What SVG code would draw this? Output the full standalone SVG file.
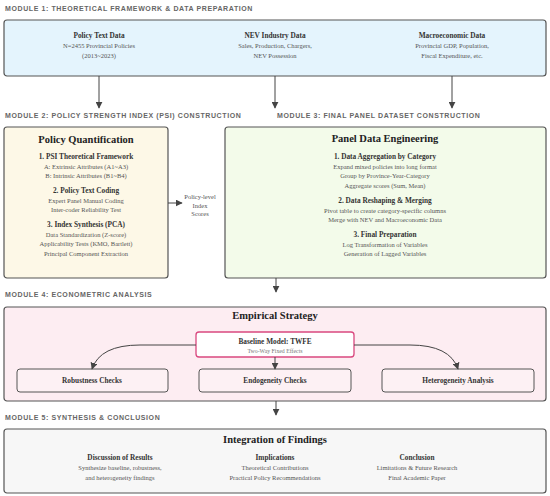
<svg xmlns="http://www.w3.org/2000/svg" width="550" height="496" viewBox="0 0 550 496">
<defs>
<marker id="ah" viewBox="0 0 10 10" refX="9" refY="5" markerWidth="7" markerHeight="7" orient="auto" markerUnits="userSpaceOnUse">
<path d="M0,0 L10,5 L0,10 z" fill="#444"/>
</marker>
<style>
.mt{font-family:"Liberation Sans",Arial,sans-serif;font-size:7px;font-weight:bold;fill:#666;letter-spacing:0.6px}
.mod{stroke:#555;stroke-width:1.2}
.t{font-family:"Liberation Serif","Times New Roman",serif;text-anchor:middle}
.big{font-size:10.5px;font-weight:bold;fill:#222}
.h{font-size:7.3px;font-weight:bold;fill:#333}
.s{font-size:6.5px;fill:#555}
.c{fill:none;stroke:#444;stroke-width:1}
.box{fill:#fdf1f4;stroke:#555;stroke-width:1}
</style>
</defs>
<rect width="550" height="496" fill="#fff"/>

<text class="mt" x="5" y="11">MODULE 1: THEORETICAL FRAMEWORK &amp; DATA PREPARATION</text>
<text class="mt" x="5" y="118">MODULE 2: POLICY STRENGTH INDEX (PSI) CONSTRUCTION</text>
<text class="mt" x="277" y="118">MODULE 3: FINAL PANEL DATASET CONSTRUCTION</text>
<text class="mt" x="5" y="297">MODULE 4: ECONOMETRIC ANALYSIS</text>
<text class="mt" x="5" y="420">MODULE 5: SYNTHESIS &amp; CONCLUSION</text>

<g id="module1">
<rect class="mod" x="4" y="20" width="542" height="56" rx="3" fill="#e4f4fd"/>
<text class="t h" x="99" y="38">Policy Text Data</text>
<text class="t s" x="99" y="48">N=2455 Provincial Policies</text>
<text class="t s" x="99" y="58">(2013~2023)</text>
<text class="t h" x="275" y="38">NEV Industry Data</text>
<text class="t s" x="275" y="48">Sales, Production, Chargers,</text>
<text class="t s" x="275" y="58">NEV Possession</text>
<text class="t h" x="452" y="38">Macroeconomic Data</text>
<text class="t s" x="452" y="48">Provincial GDP, Population,</text>
<text class="t s" x="452" y="58">Fiscal Expenditure, etc.</text>
</g>

<g id="module2">
<rect class="mod" x="4" y="127" width="164" height="151" rx="3" fill="#fdf8e7"/>
<text class="t big" x="86" y="143">Policy Quantification</text>
<text class="t h" x="86" y="159">1. PSI Theoretical Framework</text>
<text class="t s" x="86" y="168.5">A: Extrinsic Attributes (A1~A3)</text>
<text class="t s" x="86" y="178">B: Intrinsic Attributes (B1~B4)</text>
<text class="t h" x="86" y="193">2. Policy Text Coding</text>
<text class="t s" x="86" y="202.5">Expert Panel Manual Coding</text>
<text class="t s" x="86" y="212">Inter-coder Reliability Test</text>
<text class="t h" x="86" y="227">3. Index Synthesis (PCA)</text>
<text class="t s" x="86" y="236.5">Data Standardization (Z-score)</text>
<text class="t s" x="86" y="246">Applicability Tests (KMO, Bartlett)</text>
<text class="t s" x="86" y="255.5">Principal Component Extraction</text>
</g>

<g id="scores-label">
<text class="t s" x="200" y="199">Policy-level</text>
<text class="t s" x="200" y="207.5">Index</text>
<text class="t s" x="200" y="216">Scores</text>
</g>

<g id="module3">
<rect class="mod" x="225" y="127" width="321" height="151" rx="3" fill="#f3fbea"/>
<text class="t big" x="385" y="142">Panel Data Engineering</text>
<text class="t h" x="385" y="159">1. Data Aggregation by Category</text>
<text class="t s" x="385" y="168.5">Expand mixed policies into long format</text>
<text class="t s" x="385" y="178">Group by Province-Year-Category</text>
<text class="t s" x="385" y="187.5">Aggregate scores (Sum, Mean)</text>
<text class="t h" x="385" y="203">2. Data Reshaping &amp; Merging</text>
<text class="t s" x="385" y="212.5">Pivot table to create category-specific columns</text>
<text class="t s" x="385" y="222">Merge with NEV and Macroeconomic Data</text>
<text class="t h" x="385" y="237">3. Final Preparation</text>
<text class="t s" x="385" y="246.5">Log Transformation of Variables</text>
<text class="t s" x="385" y="256">Generation of Lagged Variables</text>
</g>

<g id="module4">
<rect class="mod" x="4" y="307" width="542" height="94" rx="3" fill="#fdedf2"/>
<text class="t big" x="275" y="319">Empirical Strategy</text>
<g id="baseline">
<rect x="196" y="332" width="158" height="25" rx="3" fill="#fff" stroke="#d9487f" stroke-width="1.3"/>
<text class="t h" x="275" y="344">Baseline Model: TWFE</text>
<text class="t" x="275" y="353" font-size="5.8" fill="#777">Two-Way Fixed Effects</text>
</g>
<g id="robustness">
<rect class="box" x="17" y="369" width="151" height="23" rx="3"/>
<text class="t h" x="92" y="383">Robustness Checks</text>
</g>
<g id="endogeneity">
<rect class="box" x="199" y="369" width="152" height="23" rx="3"/>
<text class="t h" x="275" y="383">Endogeneity Checks</text>
</g>
<g id="heterogeneity">
<rect class="box" x="382" y="369" width="152" height="23" rx="3"/>
<text class="t h" x="458" y="383">Heterogeneity Analysis</text>
</g>
</g>

<g id="module5">
<rect class="mod" x="4" y="429" width="542" height="64" rx="3" fill="#f7f7f7"/>
<text class="t big" x="275" y="443">Integration of Findings</text>
<text class="t h" x="120" y="460">Discussion of Results</text>
<text class="t s" x="120" y="470">Synthesize baseline, robustness,</text>
<text class="t s" x="120" y="480">and heterogeneity findings</text>
<text class="t h" x="275" y="460">Implications</text>
<text class="t s" x="275" y="470">Theoretical Contributions</text>
<text class="t s" x="275" y="480">Practical Policy Recommendations</text>
<text class="t h" x="417" y="460">Conclusion</text>
<text class="t s" x="417" y="470">Limitations &amp; Future Research</text>
<text class="t s" x="417" y="480">Final Academic Paper</text>
</g>

<g id="connectors">
<line class="c" x1="99" y1="76" x2="99" y2="108" marker-end="url(#ah)"/>
<line class="c" x1="275" y1="76" x2="275" y2="108" marker-end="url(#ah)"/>
<line class="c" x1="452" y1="76" x2="452" y2="108" marker-end="url(#ah)"/>
<line class="c" x1="168" y1="203" x2="182" y2="203" marker-end="url(#ah)"/>
<line class="c" x1="276" y1="278" x2="276" y2="292" marker-end="url(#ah)"/>
<path class="c" d="M196,345 L140,345 Q100,345 92,369" marker-end="url(#ah)"/>
<path class="c" d="M354,345 L410,345 Q450,345 458,369" marker-end="url(#ah)"/>
<line class="c" x1="275" y1="357" x2="275" y2="369" marker-end="url(#ah)"/>
<line class="c" x1="276" y1="401" x2="276" y2="415" marker-end="url(#ah)"/>
</g>
</svg>
